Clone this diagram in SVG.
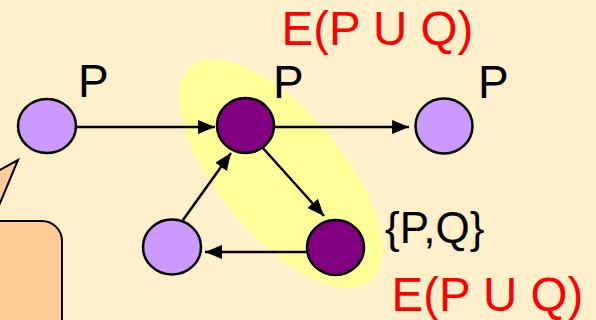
<svg xmlns="http://www.w3.org/2000/svg" width="596" height="320" viewBox="0 0 596 320">
<style>
.lt{fill:#CC99FF;stroke:#000;stroke-width:2.5}
.dk{fill:#800080;stroke:#000;stroke-width:2.5}
.lbl{font-family:"Liberation Sans",Arial,sans-serif;font-size:46px;fill:#000}
.red{font-family:"Liberation Sans",Arial,sans-serif;font-size:47.5px;fill:#FF0000}
.edge{stroke:#000;stroke-width:2.5;fill:none;marker-end:url(#ah)}
</style>
<defs>
<marker id="ah" markerWidth="17" markerHeight="14" refX="17" refY="7" orient="auto" markerUnits="userSpaceOnUse">
<path d="M0,0 L17,7 L0,14 Z" fill="#000"/>
</marker>
</defs>
<rect x="0" y="0" width="596" height="320" fill="#FFEFCB"/>
<g id="highlight">
<ellipse cx="281" cy="174" rx="140" ry="62" transform="rotate(50 281 174)" fill="#FFFF99"/>
</g>
<g id="callout">
<path d="M-20,181 L18,160 L-20,251" fill="#FFCC99" stroke="#000" stroke-width="2"/>
<rect x="-30" y="221" width="92" height="130" rx="20" fill="#FFCC99" stroke="#000" stroke-width="2"/>
</g>
<g id="connectors">
<line class="edge" x1="75" y1="127" x2="215" y2="127"/>
<line class="edge" x1="274" y1="127" x2="409" y2="127"/>
<line class="edge" x1="262" y1="147" x2="324" y2="216"/>
<line class="edge" x1="313" y1="252" x2="205" y2="252"/>
<line class="edge" x1="183" y1="220" x2="231" y2="153"/>
</g>
<g id="n1">
<ellipse class="lt" cx="47" cy="126" rx="29" ry="27"/>
<text class="lbl" x="78" y="97">P</text>
</g>
<g id="n2">
<ellipse class="dk" cx="245.5" cy="125.5" rx="28.5" ry="27.5"/>
<text class="lbl" x="273" y="98">P</text>
<text class="red" x="281.5" y="45">E(P U Q)</text>
</g>
<g id="n3">
<ellipse class="lt" cx="444" cy="126" rx="28.5" ry="27.5"/>
<text class="lbl" x="478" y="98">P</text>
</g>
<g id="n4">
<ellipse class="dk" cx="335.5" cy="247.5" rx="28.5" ry="27.5"/>
<text class="lbl" x="385" y="243" style="font-size:44px">{P,Q}</text>
<text class="red" x="391.5" y="311">E(P U Q)</text>
</g>
<g id="n5">
<ellipse class="lt" cx="172" cy="247" rx="29" ry="27.5"/>
</g>
</svg>
